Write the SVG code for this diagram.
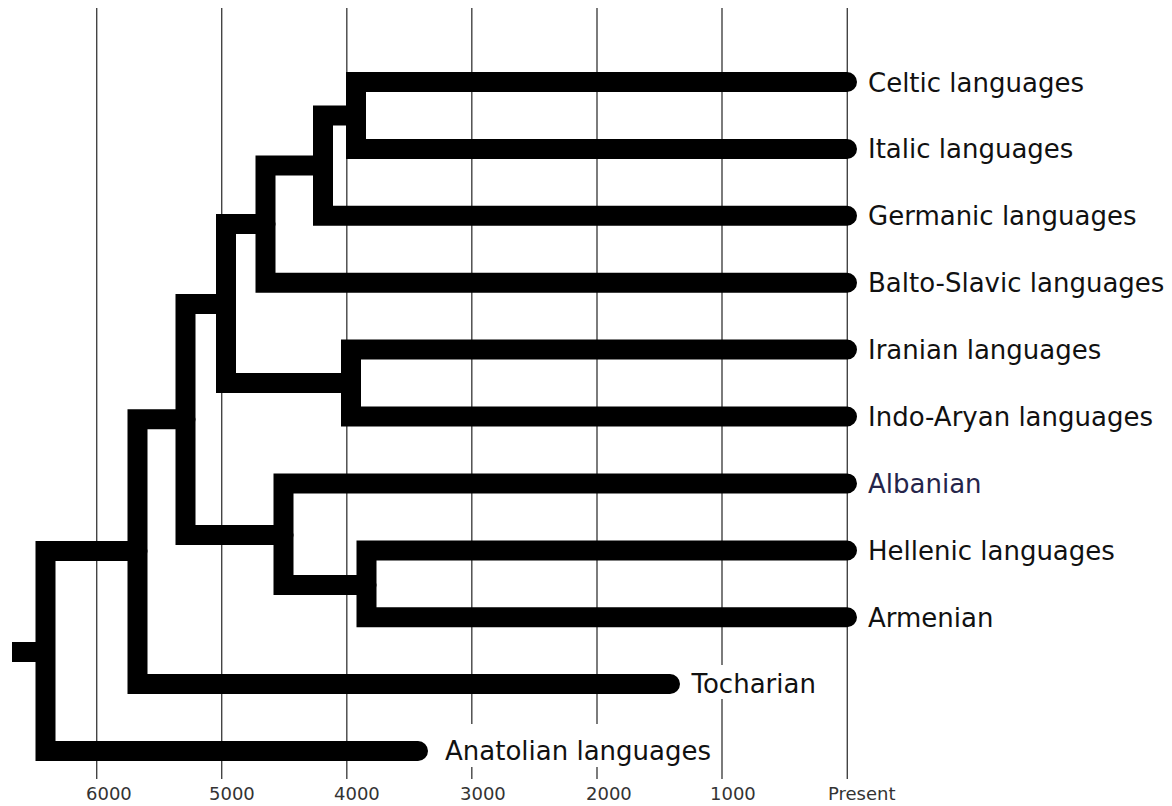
<svg xmlns="http://www.w3.org/2000/svg" width="1172" height="806" viewBox="0 0 1172 806">
<style>
.grid{stroke:#444;stroke-width:1.4;fill:none}
.br{fill:none;stroke:#000;stroke-width:20;stroke-linecap:round;stroke-linejoin:miter}
.lbl{font-family:"DejaVu Sans",sans-serif;font-size:26px;fill:#111}
.tick{font-family:"DejaVu Sans",sans-serif;font-size:18px;fill:#333}
</style>
<rect width="1172" height="806" fill="#fff"/>
<g id="grid">
<line class="grid" x1="96.7" y1="8" x2="96.7" y2="779"/>
<line class="grid" x1="221.7" y1="8" x2="221.7" y2="779"/>
<line class="grid" x1="346.8" y1="8" x2="346.8" y2="779"/>
<line class="grid" x1="471.8" y1="8" x2="471.8" y2="779"/>
<line class="grid" x1="597" y1="8" x2="597" y2="779"/>
<line class="grid" x1="722" y1="8" x2="722" y2="779"/>
<line class="grid" x1="847.3" y1="8" x2="847.3" y2="779"/>
</g>
<g id="axis-labels">
<text class="tick" x="86" y="800">6000</text>
<text class="tick" x="209" y="800">5000</text>
<text class="tick" x="334" y="800">4000</text>
<text class="tick" x="460" y="800">3000</text>
<text class="tick" x="586" y="800">2000</text>
<text class="tick" x="710" y="800">1000</text>
<text class="tick" x="828" y="800">Present</text>
</g>
<g id="connectors">
<path id="n-celtic-italic" class="br" d="M847,82 H356 V149 H847"/>
<path id="n-ci-germanic" class="br" d="M356,115.5 H323 V215.8 H847"/>
<path id="n-cig-balto" class="br" d="M323,165.6 H265.5 V282.7 H847"/>
<path id="n-indoiranian" class="br" d="M847,349.6 H351 V416.5 H847"/>
<path id="n-euro-indoiranian" class="br" d="M265.5,224 H226 V383 H351"/>
<path id="n-hellenic-armenian" class="br" d="M847,550.5 H366.5 V617.2 H847"/>
<path id="n-albanian" class="br" d="M847,483.4 H283.5 V585 H366.5"/>
<path id="n-core" class="br" d="M226,304 H185.5 V535 H283.5"/>
<path id="n-tocharian" class="br" d="M185.5,419.3 H137.5 V684 H670"/>
<path id="n-root" class="br" d="M137.5,551 H45.5 V751 H418"/>
<line x1="12" y1="652" x2="46" y2="652" stroke="#000" stroke-width="20"/>
</g>
<g id="leaf-celtic"><text class="lbl" x="868" y="91.5">Celtic languages</text></g>
<g id="leaf-italic"><text class="lbl" x="868" y="158.4">Italic languages</text></g>
<g id="leaf-germanic"><text class="lbl" x="868" y="225.3">Germanic languages</text></g>
<g id="leaf-balto"><text class="lbl" x="868" y="292.2">Balto-Slavic languages</text></g>
<g id="leaf-iranian"><text class="lbl" x="868" y="359.1">Iranian languages</text></g>
<g id="leaf-indoaryan"><text class="lbl" x="868" y="426">Indo-Aryan languages</text></g>
<g id="leaf-albanian"><text class="lbl" x="868" y="492.9" style="fill:#25254a">Albanian</text></g>
<g id="leaf-hellenic"><text class="lbl" x="868" y="559.8">Hellenic languages</text></g>
<g id="leaf-armenian"><text class="lbl" x="868" y="626.7">Armenian</text></g>
<g id="leaf-tocharian"><rect x="688" y="665" width="134" height="34" fill="#fff"/><text class="lbl" x="691.5" y="693.3">Tocharian</text></g>
<g id="leaf-anatolian"><rect x="442" y="724" width="274" height="43" fill="#fff"/><text class="lbl" x="445" y="760">Anatolian languages</text></g>
</svg>
